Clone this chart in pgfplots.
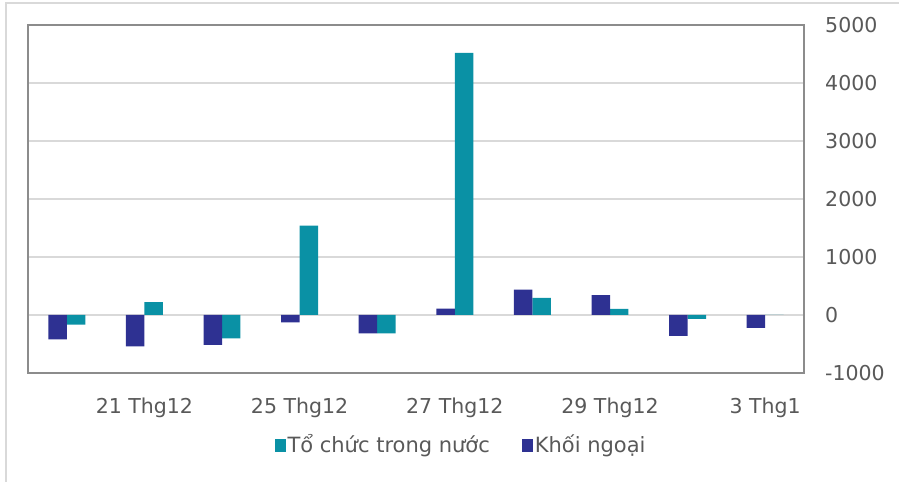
\documentclass[border=0pt]{standalone}
\usepackage{pgfplots}
\pgfplotsset{compat=1.18}
\usepackage{fontspec}
\setmainfont{DejaVu Sans}
\definecolor{tc}{HTML}{0A91A5}
\definecolor{kn}{HTML}{2E3192}
\definecolor{txt}{HTML}{595959}
\definecolor{gridc}{HTML}{D9D9D9}
\definecolor{boxc}{HTML}{8C8C8C}
\begin{document}
\fontsize{21bp}{25bp}\selectfont
\begin{tikzpicture}
\useasboundingbox (0bp,0bp) rectangle (899bp,482bp);
\draw[gridc,line width=1.5bp] (6bp,0bp) -- (6bp,479bp) -- (899bp,479bp);
\begin{axis}[
  at={(28bp,109bp)}, anchor=south west,
  width=776bp, height=348bp, scale only axis,
  xmin=-0.5, xmax=9.5, ymin=-1000, ymax=5000,
  ytick={-1000,0,1000,2000,3000,4000,5000},
  xtick={1,3,5,7,9},
  xticklabels={21 Thg12,25 Thg12,27 Thg12,29 Thg12,3 Thg1},
  yticklabel pos=right,
  major tick length=0pt,
  /pgf/number format/assume math mode=true,
  /pgf/number format/1000 sep={},
  scaled y ticks=false,
  tick label style={text=txt, font=\fontsize{20.5bp}{24bp}\selectfont},
  yticklabel style={anchor=west, xshift=14bp},
  xticklabel style={yshift=-18bp},
  ymajorgrids, major grid style={gridc, line width=1.3bp},
  axis line style={boxc, line width=1.5bp},
  ybar, bar width=0.238,
  legend style={at={(0.558,-0.207)}, anchor=center, draw=none, fill=none,
    legend columns=2, text=txt, font=\fontsize{21bp}{25bp}\selectfont,
    /tikz/every even column/.append style={column sep=30bp}},
  legend image code/.code={\fill[#1] (0bp,-6.5bp) rectangle (11bp,6.5bp);},
]
\addplot[fill=tc, draw=none, bar shift=0.119] coordinates {
  (0,-168) (1,220) (2,-403) (3,1540) (4,-315) (5,4521) (6,294) (7,104) (8,-65) (9,0)};
\addlegendentry{Tổ chức trong nước}
\addplot[fill=kn, draw=none, bar shift=-0.119] coordinates {
  (0,-420) (1,-542) (2,-514) (3,-126) (4,-317) (5,109) (6,438) (7,341) (8,-358) (9,-220)};
\addlegendentry{Khối ngoại}
\end{axis}
\end{tikzpicture}
\end{document}
